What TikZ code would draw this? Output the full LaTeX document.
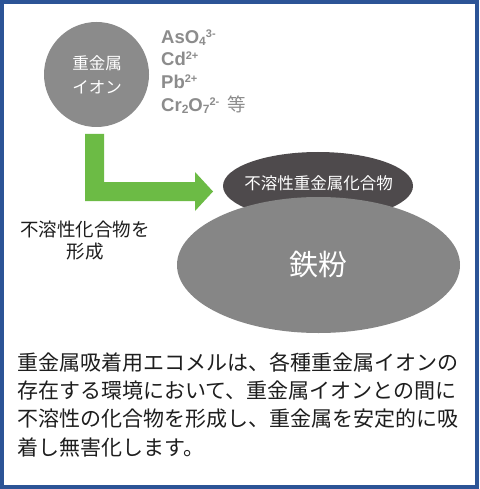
\documentclass[tikz,border=0pt]{standalone}
\usepackage{fontspec}
\setmainfont{Liberation Sans}
\newfontfamily\jp{Noto Sans CJK JP}
\usetikzlibrary{shapes.geometric}
\definecolor{frameblue}{RGB}{44,84,150}
\definecolor{iongray}{RGB}{140,140,140}
\definecolor{circgray}{RGB}{139,139,139}
\definecolor{darkell}{RGB}{78,74,76}
\definecolor{bigell}{RGB}{134,134,134}
\definecolor{arrowgreen}{RGB}{108,187,69}
\definecolor{txt}{RGB}{30,30,30}
\newcommand\ionsup[1]{\raisebox{6pt}{\fontsize{11}{11}\selectfont #1}}
\newcommand\ionsub[1]{\raisebox{-2.5pt}{\fontsize{12}{12}\selectfont #1}}
\tikzset{
  ion/.style={anchor=base west, inner sep=0pt, text=iongray, font=\fontsize{18.5}{18.5}\selectfont\bfseries},
  body/.style={anchor=base west, inner sep=0pt, text=txt, font=\jp\fontsize{21}{21}\selectfont},
  whitelbl/.style={inner sep=0pt, text=white, font=\jp\fontsize{16.5}{24}\selectfont, align=center},
}
\begin{document}
\begin{tikzpicture}[x=1pt,y=-1pt]
\useasboundingbox (0,0) rectangle (479,489);
\fill[white] (0,0) rectangle (479,489);
\draw[frameblue, line width=4pt] (2,2) rectangle (477,487);
% circle
\node[circle, fill=circgray, minimum size=105pt, inner sep=0pt] (ion) at (96.5,74.5) {};
\node[whitelbl] (ionlbl) at (97,75) {重金属\\イオン};
% ion list
\node[ion] (as) at (161,43.3) {AsO\ionsub{4}\ionsup{3-}};
\node[ion] (cd) at (161,66) {Cd\ionsup{2+}};
\node[ion] (pb) at (161,88.5) {Pb\ionsup{2+}};
\node[ion] (cr) at (161,111.5) {Cr\ionsub{2}O\ionsub{7}\ionsup{2-}\hspace{8pt}{\jp\mdseries 等}};
% ellipses
\node[ellipse, fill=darkell, minimum width=190pt, minimum height=68pt, inner sep=0pt] (comp) at (318,186) {};
\node[ellipse, fill=bigell, minimum width=283pt, minimum height=136pt, inner sep=0pt] (iron) at (318.5,265) {};
\node[inner sep=0pt, text=white, font=\jp\fontsize{16.5}{16.5}\selectfont] (complbl) at (318.5,183) {不溶性重金属化合物};
\node[inner sep=0pt, text=white, font=\jp\fontsize{29}{29}\selectfont] (ironlbl) at (318,265) {鉄粉};
% green arrow
\fill[arrowgreen] (85,134) -- (104,134) -- (104,182) -- (195,182) -- (195,172) -- (213,191.5) -- (195,211) -- (195,201) -- (85,201) -- cycle;
\node[inner sep=0pt, text=txt, font=\jp\fontsize{18.5}{22}\selectfont, align=center] (form) at (85,241) {不溶性化合物を\\形成};
% body text
\node[body] (l1) at (17,370.5) {重金属吸着用エコメルは、各種重金属イオンの};
\node[body] (l2) at (17,398.5) {存在する環境において、重金属イオンとの間に};
\node[body] (l3) at (17,426.5) {不溶性の化合物を形成し、重金属を安定的に吸};
\node[body] (l4) at (17,455) {着し無害化します。};
\end{tikzpicture}
\end{document}
